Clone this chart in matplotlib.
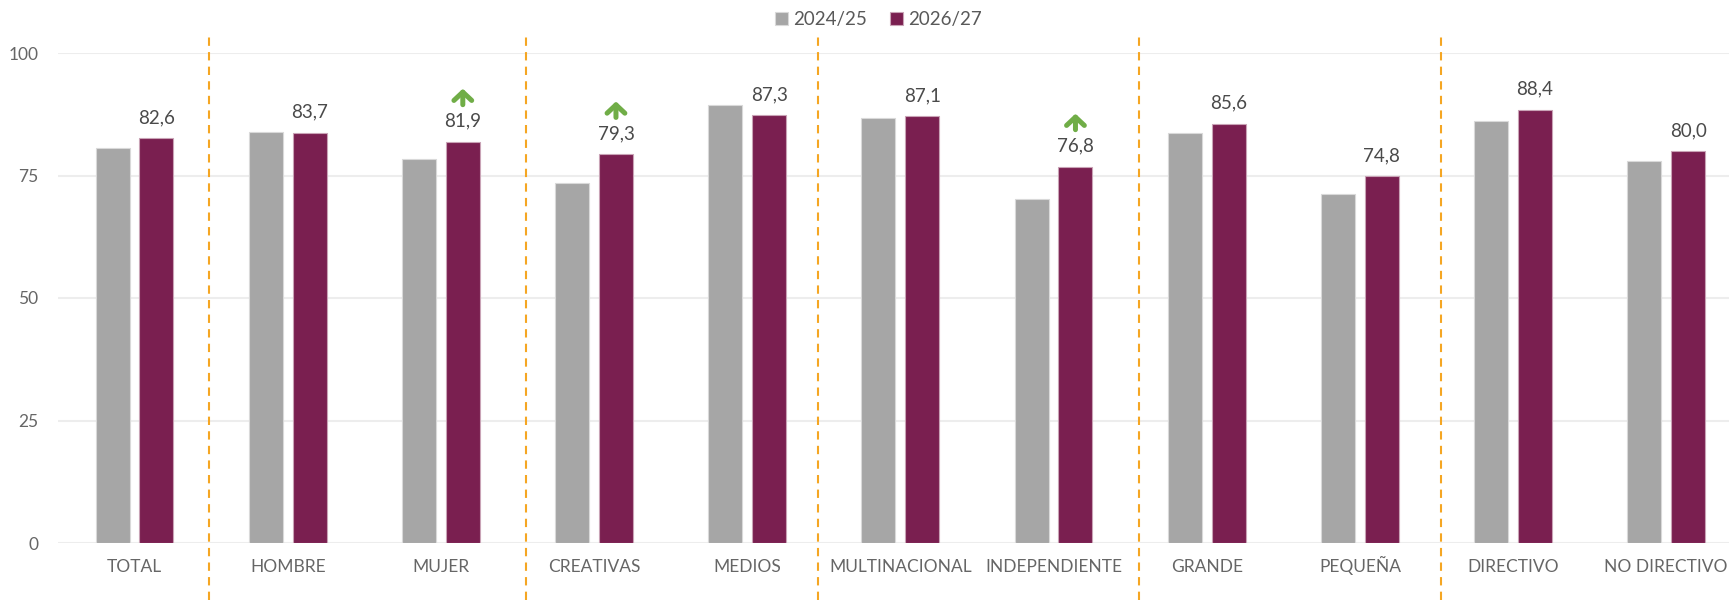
import matplotlib
matplotlib.use('Agg')
import matplotlib.pyplot as plt
import matplotlib.transforms as mtransforms
import numpy as np

plt.rcParams['font.family'] = ['Lato', 'DejaVu Sans']

# data
categories = ['TOTAL', 'HOMBRE', 'MUJER', 'CREATIVAS', 'MEDIOS', 'MULTINACIONAL',
              'INDEPENDIENTE', 'GRANDE', 'PEQUEÑA', 'DIRECTIVO', 'NO DIRECTIVO']
vals_2425 = [80.6, 83.9, 78.3, 73.5, 89.4, 86.7, 70.2, 83.7, 71.3, 86.1, 78.0]
vals_2627 = [82.6, 83.7, 81.9, 79.3, 87.3, 87.1, 76.8, 85.6, 74.8, 88.4, 80.0]
labels_2627 = ['82,6', '83,7', '81,9', '79,3', '87,3', '87,1', '76,8', '85,6', '74,8', '88,4', '80,0']
up_arrows = ['MUJER', 'CREATIVAS', 'INDEPENDIENTE']
separators = [0.488, 2.556, 4.461, 6.559, 8.531]

GRAY = '#A6A6A6'
PURPLE = '#7A1F50'
GREEN = '#70AD47'
ORANGE = '#F5A623'
TXT = '#4A4A4A'

fig = plt.figure(figsize=(17.29, 6), dpi=100)
ax = fig.add_axes([58 / 1729, 1 - 543 / 600, 1 - 58 / 1729, (543 - 53) / 600])

x = np.arange(len(categories))
w = 0.222
off = 0.143
ax.bar(x - off, vals_2425, w, color=GRAY, edgecolor='#D9D9D9', linewidth=0.8,
       label='2024/25', zorder=3)
ax.bar(x + off, vals_2627, w, color=PURPLE, edgecolor='#C9A3B6', linewidth=0.8,
       label='2026/27', zorder=3)

ax.set_ylim(0, 100)
ax.set_xlim(-0.5, 10.41)
ax.set_yticks([0, 25, 50, 75, 100])
ax.set_xticks(x)
ax.set_xticklabels(categories, va='baseline')
ax.tick_params(axis='both', length=0, labelsize=12.5, colors='#666666', labelcolor='#666666')
ax.tick_params(axis='x', pad=21)
ax.tick_params(axis='y', pad=14)
ax.grid(axis='y', color='#EDEDED', linewidth=1.5, zorder=0)
for s in ax.spines.values():
    s.set_visible(False)

# value labels for 2026/27
for i, v in enumerate(vals_2627):
    ax.annotate(labels_2627[i], xy=(x[i] + off, v), xytext=(0, 15),
                textcoords='offset pixels', ha='center', va='baseline',
                fontsize=13.5, color=TXT)

# green arrows above the improving categories
for c in up_arrows:
    i = categories.index(c)
    tip = mtransforms.offset_copy(ax.transData, fig=fig, x=0, y=53, units='dots')
    tail = mtransforms.offset_copy(ax.transData, fig=fig, x=0, y=37, units='dots')
    ax.annotate('', xy=(x[i] + off, vals_2627[i]), xycoords=tip,
                xytext=(x[i] + off, vals_2627[i]), textcoords=tail,
                arrowprops=dict(arrowstyle='->,head_width=0.32,head_length=0.3',
                                lw=3.6, color=GREEN, shrinkA=0, shrinkB=0,
                                mutation_scale=20))

# orange dashed group separators
for s in separators:
    ax.axvline(s, ymin=-0.116, ymax=1.037, color=ORANGE, linestyle=(0, (4, 3)),
               linewidth=1.5, clip_on=False, zorder=4)

fig.legend(loc='center', bbox_to_anchor=(0.508, 0.968), ncol=2, frameon=False,
           fontsize=13.5, handlelength=0.7, handleheight=0.7, handletextpad=0.3,
           columnspacing=1.2, labelcolor='#595959')

fig.savefig('out.png', dpi=100)
